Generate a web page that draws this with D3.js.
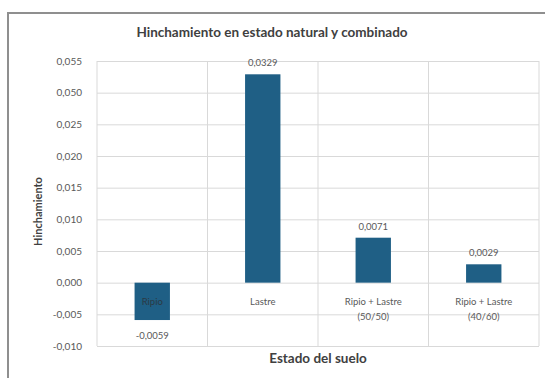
<!DOCTYPE html>
<html>
<head>
<meta charset="utf-8">
<script src="https://cdn.jsdelivr.net/npm/d3@7"></script>
<style>
  html, body { margin: 0; padding: 0; background: #ffffff; }
  svg { display: block; font-family: Lato, "Open Sans", sans-serif; }
</style>
</head>
<body>
<svg id="chart" width="545" height="378"></svg>
<script>
// Swelling per soil state
const categories = ["Ripio", "Lastre", "Ripio + Lastre\n(50/50)", "Ripio + Lastre\n(40/60)"];
const values = [-0.0059, 0.0329, 0.0071, 0.0029];
const valueLabels = ["-0,0059", "0,0329", "0,0071", "0,0029"];
const tickValues = [-0.010, -0.005, 0.000, 0.005, 0.010, 0.015, 0.020, 0.025, 0.030, 0.035];
const tickLabels = ["-0,010", "-0,005", "0,000", "0,005", "0,010", "0,015", "0,020", "0,025", "0,050", "0,055"];

const svg = d3.select("#chart");
const W = 545, H = 378;
const plot = { left: 97, right: 539, top: 61, bottom: 346 };
const textColor = "#595959";
const gridColor = "#d9d9d9";
const barColor = "#1f5f85";

// Chart frame
svg.append("rect")
  .attr("x", 8).attr("y", 13)
  .attr("width", W + 10).attr("height", H + 10)
  .attr("fill", "#ffffff")
  .attr("stroke", "#8f8f8f")
  .attr("stroke-width", 2);

const x = d3.scaleBand()
  .domain(categories)
  .range([plot.left, plot.right])
  .paddingInner(0.68)
  .paddingOuter(0.34);

const y = d3.scaleLinear()
  .domain([-0.010, 0.035])
  .range([plot.bottom, plot.top]);

// Horizontal gridlines
const yAxis = d3.axisLeft(y)
  .tickValues(tickValues)
  .tickSize(-(plot.right - plot.left))
  .tickPadding(15)
  .tickFormat((d, i) => tickLabels[i]);

const gy = svg.append("g")
  .attr("transform", `translate(${plot.left},0)`)
  .call(yAxis);
gy.select(".domain").remove();
gy.selectAll(".tick line").attr("stroke", gridColor).attr("stroke-width", 1);
gy.selectAll(".tick text")
  .attr("fill", textColor)
  .attr("font-size", 10)
  .attr("font-family", "Lato, sans-serif");

// Vertical gridlines at category boundaries
const step = x.step();
const bounds = [plot.left].concat(categories.map((c, i) => plot.left + step * (i + 1)));
svg.append("g").selectAll("line")
  .data(bounds)
  .join("line")
  .attr("x1", d => d).attr("x2", d => d)
  .attr("y1", plot.top).attr("y2", plot.bottom)
  .attr("stroke", gridColor)
  .attr("stroke-width", 1);

// Bars
svg.append("g").selectAll("rect")
  .data(values)
  .join("rect")
  .attr("x", (d, i) => x(categories[i]))
  .attr("width", x.bandwidth())
  .attr("y", d => y(Math.max(0, d)))
  .attr("height", d => Math.abs(y(d) - y(0)))
  .attr("fill", barColor);

// Value labels
svg.append("g").selectAll("text")
  .data(values)
  .join("text")
  .attr("x", (d, i) => x(categories[i]) + x.bandwidth() / 2)
  .attr("y", d => d >= 0 ? y(d) - 8 : y(d) + 19)
  .attr("text-anchor", "middle")
  .attr("fill", textColor)
  .attr("font-size", 9.5)
  .text((d, i) => valueLabels[i]);

// Category labels
const catG = svg.append("g");
categories.forEach((c, i) => {
  const t = catG.append("text")
    .attr("x", x(c) + x.bandwidth() / 2)
    .attr("y", y(0) + 22)
    .attr("text-anchor", "middle")
    .attr("fill", i === 0 ? "#2b3a44" : textColor)
    .attr("font-size", 9.5);
  c.split("\n").forEach((line, j) => {
    t.append("tspan")
      .attr("x", x(c) + x.bandwidth() / 2)
      .attr("dy", j === 0 ? 0 : 15)
      .text(line);
  });
});

// Title
svg.append("text")
  .attr("x", 272).attr("y", 37)
  .attr("text-anchor", "middle")
  .attr("fill", "#404040")
  .attr("font-size", 13.5)
  .attr("font-weight", "bold")
  .text("Hinchamiento en estado natural y combinado");

// Axis titles
svg.append("text")
  .attr("transform", `translate(42,${(plot.top + plot.bottom) / 2 + 8}) rotate(-90)`)
  .attr("text-anchor", "middle")
  .attr("fill", "#404040")
  .attr("font-size", 11)
  .attr("font-weight", "bold")
  .text("Hinchamiento");

svg.append("text")
  .attr("x", 318).attr("y", 363)
  .attr("text-anchor", "middle")
  .attr("fill", "#404040")
  .attr("font-size", 13.5)
  .attr("font-weight", "bold")
  .text("Estado del suelo");
</script>
</body>
</html>
